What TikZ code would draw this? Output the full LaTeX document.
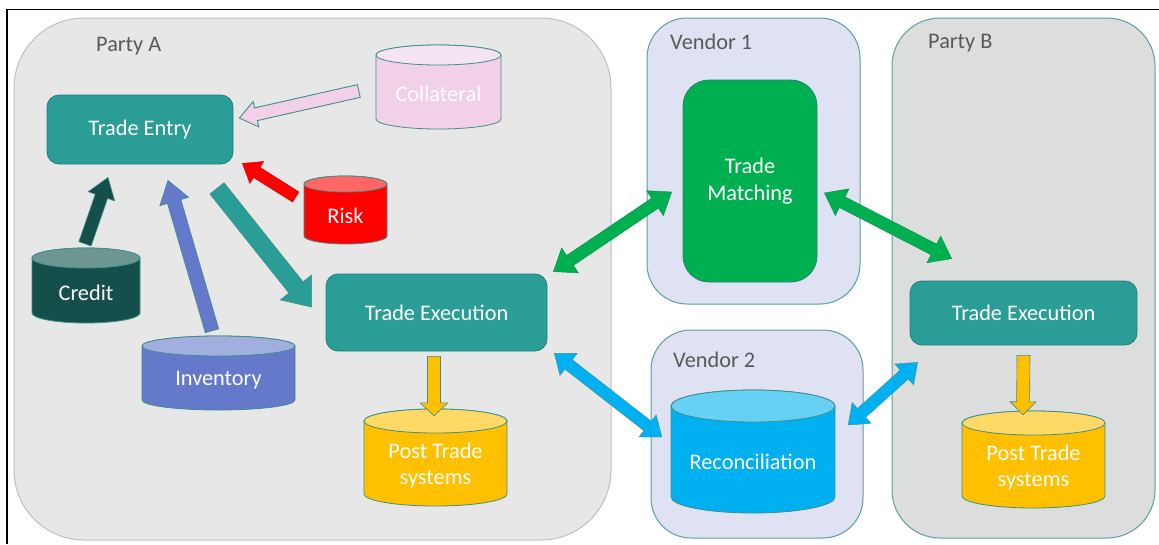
\documentclass[tikz,border=0pt]{standalone}
\usepackage{fontspec}
\setmainfont{Carlito}
\usetikzlibrary{calc}

\definecolor{grayA}{HTML}{E7E7E7}
\definecolor{grayAline}{HTML}{BFBFBF}
\definecolor{grayB}{HTML}{DCDEDE}
\definecolor{vendorfill}{HTML}{DFE2F3}
\definecolor{groupline}{HTML}{5E9E9E}
\definecolor{labelgray}{HTML}{595959}
\definecolor{tealbox}{HTML}{2A9D96}
\definecolor{tealline}{HTML}{23807A}
\definecolor{matchgreen}{HTML}{00B050}
\definecolor{cylline}{HTML}{3F8F8A}
\definecolor{collbody}{HTML}{F2D0E8}
\definecolor{colltop}{HTML}{F5E4F1}
\definecolor{riskbody}{HTML}{FF0000}
\definecolor{risktop}{HTML}{FF6666}
\definecolor{credbody}{HTML}{154F4C}
\definecolor{credtop}{HTML}{6E9691}
\definecolor{invbody}{HTML}{6479C9}
\definecolor{invtop}{HTML}{A0AEE0}
\definecolor{postbody}{HTML}{FFC000}
\definecolor{posttop}{HTML}{FFD966}
\definecolor{recbody}{HTML}{00B0F0}
\definecolor{rectop}{HTML}{66D0F5}

% database cylinder: name, x1, x2, top, bottom, ellipse radius, body fill, top fill, text
\newcommand{\dbcyl}[9]{%
  \pgfmathsetmacro\cylcx{(#2+#3)/2}%
  \pgfmathsetmacro\cylrx{(#3-#2)/2}%
  \pgfmathsetmacro\cylya{-(#4+#6)}%
  \pgfmathsetmacro\cylyb{-(#5-#6)}%
  \pgfmathsetmacro\cylmid{-(#4+#6+#5)/2-2}%
  \pgfmathsetmacro\cylw{#3-#2}%
  \pgfmathsetmacro\cylh{#5-#4-#6}%
  \filldraw[cylbody, fill=#7] (#2,\cylya) -- (#2,\cylyb)
     arc[start angle=180, end angle=360, x radius=\cylrx, y radius=#6]
     -- (#3,\cylya)
     arc[start angle=0, end angle=180, x radius=\cylrx, y radius=#6] -- cycle;
  \filldraw[cylbody, fill=#8] (\cylcx,\cylya) ellipse[x radius=\cylrx, y radius=#6];
  \node[cyltext, minimum width=\cylw pt, minimum height=\cylh pt] (#1) at (\cylcx,\cylmid) {#9};
}

% single block arrow: style, tail, tip, half shaft, half head, head length
\newcommand{\blockarrow}[6]{%
  \path (#2) coordinate (ba-a) (#3) coordinate (ba-b);
  \coordinate (ba-c) at ($(ba-b)!#6!(ba-a)$);
  \draw[#1] ($(ba-a)!#4!90:(ba-b)$) -- ($(ba-c)!#4!-90:(ba-a)$)
    -- ($(ba-c)!#5!-90:(ba-a)$) -- (ba-b) -- ($(ba-c)!#5!90:(ba-a)$)
    -- ($(ba-c)!#4!90:(ba-a)$) -- ($(ba-a)!#4!-90:(ba-b)$) -- cycle;
}

% double-headed block arrow: style, end a, end b, half shaft, half head, head length
\newcommand{\dblarrow}[6]{%
  \path (#2) coordinate (da-a) (#3) coordinate (da-b);
  \coordinate (da-ca) at ($(da-a)!#6!(da-b)$);
  \coordinate (da-cb) at ($(da-b)!#6!(da-a)$);
  \draw[#1] (da-a) -- ($(da-ca)!#5!-90:(da-b)$) -- ($(da-ca)!#4!-90:(da-b)$)
    -- ($(da-cb)!#4!90:(da-a)$) -- ($(da-cb)!#5!90:(da-a)$) -- (da-b)
    -- ($(da-cb)!#5!-90:(da-a)$) -- ($(da-cb)!#4!-90:(da-a)$)
    -- ($(da-ca)!#4!90:(da-b)$) -- ($(da-ca)!#5!90:(da-b)$) -- cycle;
}

\tikzset{
  bodyfont/.style={font=\fontsize{22.3}{26.5}\selectfont},
  groupbox/.style={draw=groupline, line width=1pt, inner sep=0pt},
  grouplabel/.style={bodyfont, text=labelgray, anchor=west, inner sep=0pt},
  procbox/.style={fill=tealbox, draw=tealline, line width=0.8pt, rounded corners=12pt,
    text=white, bodyfont, inner sep=0pt, align=center},
  cylbody/.style={draw=cylline, line width=0.8pt},
  cyltext/.style={text=white, bodyfont, inner sep=0pt, align=center},
  blk/.style={draw=cylline, line width=0.6pt, line join=miter},
}

\begin{document}
\begin{tikzpicture}[x=1pt, y=1pt]
  \useasboundingbox (0,0) rectangle (1159,-544);
  \fill[white] (0,0) rectangle (1159,-544);

  % outer frame (top and left edges)
  \draw[black, line width=1.2pt] (7,-544) -- (7,-9.5) -- (1159,-9.5);

  % group panels
  \node[groupbox, draw=grayAline, fill=grayA, rounded corners=70pt,
        minimum width=597pt, minimum height=522pt] (partyA) at (312.5,-279) {};
  \node[groupbox, fill=vendorfill, rounded corners=40pt,
        minimum width=213pt, minimum height=286pt] (vendor1) at (753.5,-161) {};
  \node[groupbox, fill=vendorfill, rounded corners=40pt,
        minimum width=212pt, minimum height=208pt] (vendor2) at (757,-434) {};
  \node[groupbox, fill=grayB, rounded corners=48pt,
        minimum width=263pt, minimum height=520pt] (partyB) at (1023.5,-278) {};

  \node[grouplabel] (lblA) at (96,-46) {Party A};
  \node[grouplabel] (lblV1) at (670,-42) {Vendor 1};
  \node[grouplabel] (lblV2) at (673,-360) {Vendor 2};
  \node[grouplabel] (lblB) at (928,-43) {Party B};

  % process boxes
  \node[procbox, minimum width=186pt, minimum height=69pt] (entry) at (140,-129.5) {Trade Entry};
  \node[procbox, minimum width=221pt, minimum height=77pt] (execA) at (436.5,-312.5) {Trade Execution};
  \node[procbox, minimum width=227pt, minimum height=64pt] (execB) at (1023.5,-313) {Trade Execution};
  \node[procbox, fill=matchgreen, draw=tealline, rounded corners=26pt,
        minimum width=134pt, minimum height=202pt] (match) at (750,-181)
        {\fontsize{22.3}{29}\selectfont Trade\\Matching};

  % data stores
  \dbcyl{coll}{376}{501}{45}{129}{10}{collbody}{colltop}{Collateral}
  \dbcyl{risk}{304}{387}{176}{244}{8}{riskbody}{risktop}{Risk}
  \dbcyl{credit}{32}{140}{248}{323}{10}{credbody}{credtop}{Credit}
  \dbcyl{inv}{142}{295}{336}{410}{10}{invbody}{invtop}{Inventory}
  \dbcyl{postA}{364}{507}{409}{506}{12}{postbody}{posttop}{Post Trade\\systems}
  \dbcyl{recon}{671}{835}{390}{513}{16}{recbody}{rectop}{Reconciliation}
  \dbcyl{postB}{962}{1105}{411}{508}{12}{postbody}{posttop}{Post Trade\\systems}

  % feeds into trade entry
  \blockarrow{blk, fill=collbody, draw=cylline, line width=0.9pt}
    {$(coll.west)+(-17,3)$}{$(entry.east)+(6,11.5)$}{6.5pt}{13pt}{17pt}
  \blockarrow{blk, fill=riskbody, draw=riskbody!80!black, line width=0.4pt}
    {$(risk.west)+(-8,19)$}{$(entry.south east)+(9,1)$}{6pt}{13pt}{17pt}
  \blockarrow{blk, fill=credbody}
    {$(credit.north)+(-1,16)$}{$(entry.south)+(-32,-13)$}{6.5pt}{14pt}{20pt}
  \blockarrow{blk, fill=invbody}
    {$(inv.north)+(-6.5,17)$}{$(entry.south)+(28,-16)$}{7pt}{15pt}{22pt}
  \blockarrow{blk, fill=tealbox}
    {$(entry.south)+(77,-24)$}{$(execA.west)+(-14,5.5)$}{9pt}{20pt}{25pt}

  % hand-off to post trade systems
  \blockarrow{blk, fill=postbody}
    {$(execA.south)+(-2.5,-5)$}{$(postA.north)+(-1.5,7)$}{6.5pt}{14pt}{13pt}
  \blockarrow{blk, fill=postbody}
    {$(execB.south)+(0,-10)$}{$(postB.north)+(-10.5,10)$}{6.5pt}{13pt}{13pt}

  % matching and reconciliation links
  \dblarrow{blk, fill=matchgreen, draw=matchgreen!80!black, line width=0.4pt}
    {$(execA.north east)+(6,2)$}{$(match.west)+(-11,-11)$}{6pt}{15pt}{20pt}
  \dblarrow{blk, fill=matchgreen, draw=matchgreen!80!black, line width=0.4pt}
    {$(match.east)+(7,-12)$}{$(execB.north west)+(42,22)$}{6pt}{15pt}{20pt}
  \dblarrow{blk, fill=recbody, draw=cylline, line width=0.4pt}
    {$(execA.south east)+(7,-2)$}{$(recon.west)+(-9,24.5)$}{6pt}{14pt}{18pt}
  \dblarrow{blk, fill=recbody, draw=cylline, line width=0.4pt}
    {$(recon.east)+(13,36.5)$}{$(execB.south west)+(8,-17)$}{6pt}{14pt}{18pt}
\end{tikzpicture}
\end{document}
